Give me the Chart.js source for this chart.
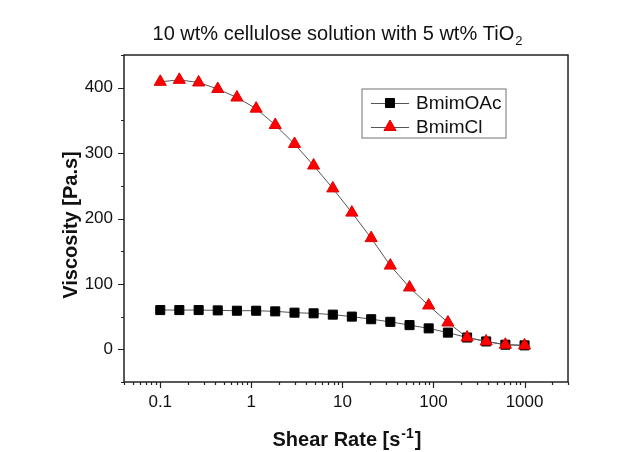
<!DOCTYPE html>
<html>
<head>
<meta charset="utf-8">
<script src="https://cdn.jsdelivr.net/npm/chart.js@4/dist/chart.umd.min.js"></script>
<style>
  html, body { margin: 0; padding: 0; background: #fff; }
  #wrap { width: 644px; height: 452px; }
</style>
</head>
<body>
<div id="wrap"><canvas id="chart" width="644" height="452"></canvas></div>
<script>
// values
const shear_rate = [0.1, 0.162, 0.264, 0.428, 0.695, 1.13, 1.83, 2.98, 4.83, 7.85,
  12.7, 20.7, 33.6, 54.6, 88.6, 144, 234, 379, 616, 1000];
const bmim_oac = [60, 60, 60, 59.5, 59, 59, 58, 56, 55, 53,
  50, 46, 42, 37, 32, 25.5, 18, 12, 7, 6];
const bmim_cl = [409, 412, 408, 398, 385, 368, 343, 314, 281, 246,
  209, 170, 128, 94.5, 67, 41, 18, 12, 7, 6];
const x_ticks = [0.1, 1, 10, 100, 1000];
const y_ticks = [0, 100, 200, 300, 400];
const y_minor = [-50, 50, 150, 250, 350, 450];

const axis_color = "#222";
const font_family = "'Liberation Sans', Arial, sans-serif";

function points(xs, ys) {
  return xs.map((x, i) => ({ x: x, y: ys[i] }));
}

// frame, minor ticks, titles and the boxed legend
const decorations = {
  id: "decorations",
  afterDraw(chart) {
    const ctx = chart.ctx;
    const area = chart.chartArea;
    const xs = chart.scales.x;
    const ys = chart.scales.y;
    ctx.save();

    // frame
    ctx.strokeStyle = axis_color;
    ctx.lineWidth = 1.5;
    ctx.strokeRect(area.left, area.top, area.right - area.left, area.bottom - area.top);

    // x ticks
    ctx.lineWidth = 1.2;
    ctx.beginPath();
    for (let d = 0.01; d <= 1000; d *= 10) {
      for (let m = 1; m <= 9; m++) {
        const v = m * d;
        if (v < xs.min || v > xs.max) continue;
        const px = Math.round(xs.getPixelForValue(v)) + 0.5;
        const len = m === 1 ? 6 : 3;
        ctx.moveTo(px, area.bottom);
        ctx.lineTo(px, area.bottom + len);
      }
    }
    // y ticks
    y_ticks.forEach((v) => {
      const py = Math.round(ys.getPixelForValue(v)) + 0.5;
      ctx.moveTo(area.left, py);
      ctx.lineTo(area.left - 6, py);
    });
    y_minor.forEach((v) => {
      const py = Math.round(ys.getPixelForValue(v)) + 0.5;
      ctx.moveTo(area.left, py);
      ctx.lineTo(area.left - 3, py);
    });
    ctx.stroke();

    ctx.fillStyle = "#111";
    ctx.textBaseline = "alphabetic";

    // chart title with subscript
    ctx.font = "20px " + font_family;
    const t_main = "10 wt% cellulose solution with 5 wt% TiO";
    const w_main = ctx.measureText(t_main).width;
    ctx.font = "13px " + font_family;
    const w_sub = ctx.measureText("2").width;
    let tx = 337 - (w_main + w_sub) / 2;
    ctx.font = "20px " + font_family;
    ctx.textAlign = "left";
    ctx.fillText(t_main, tx, 40);
    ctx.font = "13px " + font_family;
    ctx.fillText("2", tx + w_main + 1, 45);

    // x axis title with superscript
    ctx.font = "bold 20px " + font_family;
    const a1 = "Shear Rate [s";
    const a3 = "]";
    const w1 = ctx.measureText(a1).width;
    const w3 = ctx.measureText(a3).width;
    ctx.font = "bold 14px " + font_family;
    const w2 = ctx.measureText("-1").width;
    let ax = 346 - (w1 + w2 + w3) / 2;
    ctx.font = "bold 20px " + font_family;
    ctx.fillText(a1, ax, 446);
    ctx.font = "bold 14px " + font_family;
    ctx.fillText("-1", ax + w1 + 1, 438);
    ctx.font = "bold 20px " + font_family;
    ctx.fillText(a3, ax + w1 + w2 + 2, 446);

    // y axis title
    ctx.save();
    ctx.translate(77, 225);
    ctx.rotate(-Math.PI / 2);
    ctx.textAlign = "center";
    ctx.font = "bold 20px " + font_family;
    ctx.fillText("Viscosity [Pa.s]", 0, 0);
    ctx.restore();

    // legend box
    ctx.strokeStyle = "#8a8a8a";
    ctx.lineWidth = 1.2;
    ctx.strokeRect(362, 89, 144, 49);
    const rows = [103, 127];
    chart.data.datasets.forEach((ds, i) => {
      const y = rows[i];
      ctx.strokeStyle = ds.borderColor;
      ctx.lineWidth = 1;
      ctx.beginPath();
      ctx.moveTo(371, y + 0.5);
      ctx.lineTo(409, y + 0.5);
      ctx.stroke();
      ctx.fillStyle = ds.pointBackgroundColor;
      ctx.strokeStyle = ds.pointBorderColor;
      ctx.lineWidth = 1;
      Chart.helpers.drawPoint(ctx, { pointStyle: ds.pointStyle, radius: ds.pointRadius, rotation: 0, borderWidth: 1 }, 390, y);
      ctx.fillStyle = "#111";
      ctx.font = "19px " + font_family;
      ctx.textAlign = "left";
      ctx.textBaseline = "middle";
      ctx.fillText(ds.label, 416, y + 1);
    });

    ctx.restore();
  },
};

const chart = new Chart(document.getElementById("chart"), {
  type: "scatter",
  data: {
    datasets: [
      {
        label: "BmimOAc",
        data: points(shear_rate, bmim_oac),
        order: 1,
        showLine: true,
        borderColor: "#555",
        borderWidth: 1,
        pointStyle: "rect",
        pointRadius: 6.4,
        pointBackgroundColor: "#000",
        pointBorderColor: "#000",
        pointBorderWidth: 1,
      },
      {
        label: "BmimCl",
        data: points(shear_rate, bmim_cl),
        order: 0,
        showLine: true,
        borderColor: "#555",
        borderWidth: 1,
        pointStyle: "triangle",
        pointRadius: 7,
        pointBackgroundColor: "#ff0000",
        pointBorderColor: "#e00000",
        pointBorderWidth: 1,
      },
    ],
  },
  options: {
    responsive: false,
    animation: false,
    layout: { padding: { left: 0, top: 55, right: 76, bottom: 0 } },
    plugins: {
      legend: { display: false },
      tooltip: { enabled: false },
      title: { display: false },
    },
    scales: {
      x: {
        type: "logarithmic",
        min: 0.04,
        max: 3000,
        afterBuildTicks: (scale) => {
          scale.ticks = x_ticks.map((v) => ({ value: v }));
        },
        afterFit: (scale) => {
          scale.height = 70;
        },
        ticks: {
          color: "#111",
          font: { family: font_family, size: 17 },
          padding: 10,
          maxRotation: 0,
          autoSkip: false,
          callback: (value) => String(value),
        },
        grid: { display: false, drawTicks: false },
        border: { display: false },
      },
      y: {
        min: -50,
        max: 450,
        afterBuildTicks: (scale) => {
          scale.ticks = y_ticks.map((v) => ({ value: v }));
        },
        afterFit: (scale) => {
          scale.width = 124;
        },
        ticks: {
          color: "#111",
          font: { family: font_family, size: 17 },
          padding: 11,
        },
        grid: { display: false, drawTicks: false },
        border: { display: false },
      },
    },
  },
  plugins: [decorations],
});
</script>
</body>
</html>
